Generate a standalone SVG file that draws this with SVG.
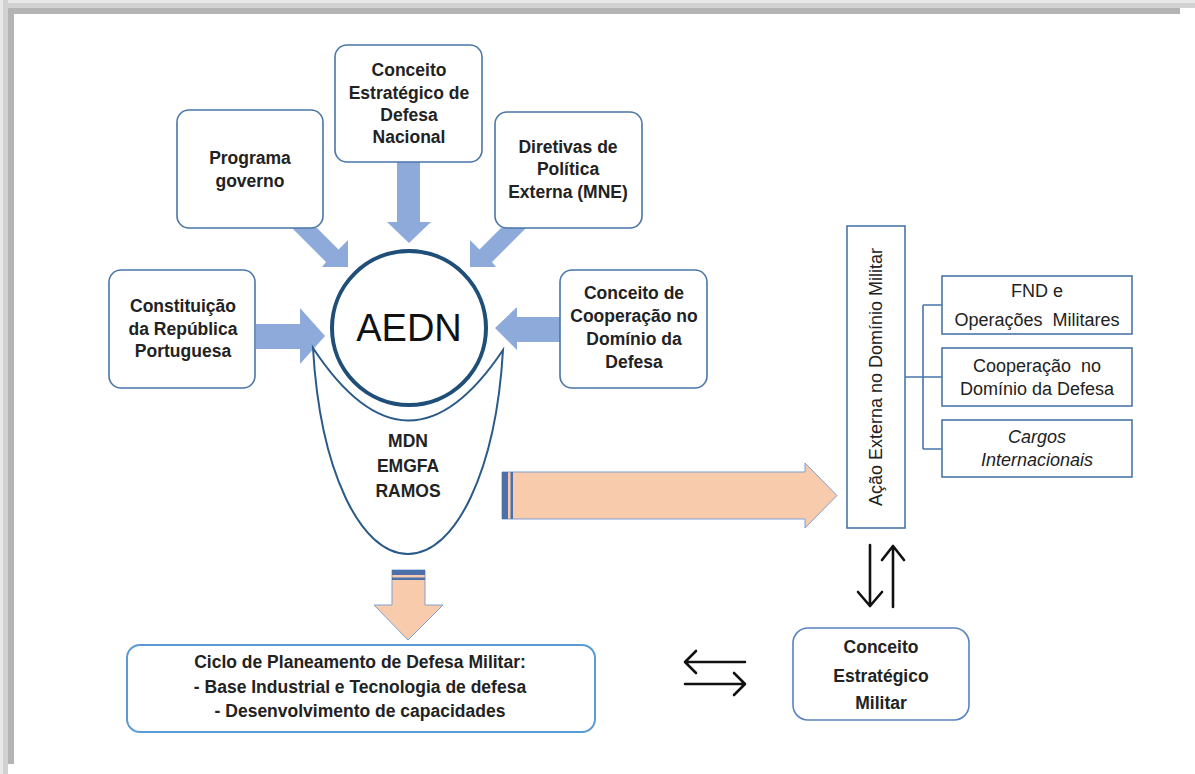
<svg xmlns="http://www.w3.org/2000/svg" width="1195" height="774" viewBox="0 0 1195 774">
<style>
.box{fill:#fff;stroke:#4a76a8;stroke-width:1.6}
.sq{fill:#fff;stroke:#4a76a8;stroke-width:1.6}
.t{font-family:"Liberation Sans",Arial,sans-serif;font-size:17.5px;font-weight:bold;fill:#222;text-anchor:middle}
.r{font-family:"Liberation Sans",Arial,sans-serif;font-size:18px;fill:#222;text-anchor:middle}
.barrow{fill:#8eaadb}
.oarrow{fill:#f8cbad;stroke:#7f9fd0;stroke-width:1}
.stripe{fill:#4d6faa}
.blk{fill:none;stroke:#111;stroke-width:2.6;stroke-linecap:round;stroke-linejoin:round}
.conn{fill:none;stroke:#4a76a8;stroke-width:1.6}
</style>
<rect width="1195" height="774" fill="#fff"/>
<g id="frame">
<rect x="0" y="0" width="1195" height="3" fill="#e8e8e8"/>
<rect x="0" y="3" width="1195" height="5" fill="#d2d2d2"/>
<rect x="8" y="8" width="1172" height="6" fill="#b4b4b4"/>
<rect x="0" y="0" width="3" height="774" fill="#e8e8e8"/>
<rect x="3" y="0" width="5" height="774" fill="#d2d2d2"/>
<rect x="8" y="8" width="6" height="756" fill="#b4b4b4"/>
</g>
<g id="connectors">
<polygon class="barrow" points="256,324 300,324 300,308 325,336 300,364 300,349 256,349"/>
<polygon class="barrow" points="560,317 517,317 517,307 495,328 517,350 517,342 560,342"/>
<polygon class="barrow" points="397,162 420,162 420,222 431,222 409,243 387,222 397,222"/>
<polygon class="barrow" points="292,228 326,262 322,267 348,267 348,240 338.5,249.5 317,228"/>
<polygon class="barrow" points="526,228 492,262 496,267 470,267 470,240 479.5,249.5 501,228"/>
<polygon class="oarrow" points="502,472 805,472 805,463 837,495.5 805,528 805,519 502,519"/>
<rect class="stripe" x="502" y="472" width="6" height="47"/>
<rect class="stripe" x="510.5" y="472" width="2.5" height="47"/>
<polygon class="oarrow" points="392,570 425,570 425,605 443,605 408,640 374,605 392,605"/>
<rect class="stripe" x="392" y="570" width="33" height="5"/>
<rect class="stripe" x="392" y="577.5" width="33" height="2.5"/>
<path class="conn" d="M905,377 H942 M923,305 V449 M923,305 H942 M923,449 H942"/>
<path class="blk" d="M870,545 V605 M858,592 L870,606 L882,592"/>
<path class="blk" d="M893,607 V547 M882,560 L893,546 L904,560"/>
<path class="blk" d="M745,662 H686 M696,651 L685,662 L696,673"/>
<path class="blk" d="M685,684 H744 M734,673 L745,684 L734,695"/>
</g>
<g id="programa">
<rect class="box" x="177" y="110" width="146" height="118" rx="12"/>
<text class="t" x="250" y="164">Programa</text>
<text class="t" x="250" y="187">governo</text>
</g>
<g id="cedn">
<rect class="box" x="335" y="45" width="147" height="117" rx="12"/>
<text class="t" x="409" y="76">Conceito</text>
<text class="t" x="409" y="99">Estratégico de</text>
<text class="t" x="409" y="121">Defesa</text>
<text class="t" x="409" y="143">Nacional</text>
</g>
<g id="diretivas">
<rect class="box" x="495" y="112" width="147" height="116" rx="12"/>
<text class="t" x="568" y="153">Diretivas de</text>
<text class="t" x="568" y="175">Política</text>
<text class="t" x="568" y="198">Externa (MNE)</text>
</g>
<g id="constituicao">
<rect class="box" x="109" y="270" width="146" height="118" rx="12"/>
<text class="t" x="183" y="312">Constituição</text>
<text class="t" x="183" y="335">da República</text>
<text class="t" x="183" y="357">Portuguesa</text>
</g>
<g id="cooperacao">
<rect class="box" x="560" y="270" width="147" height="118" rx="12"/>
<text class="t" x="634" y="299">Conceito de</text>
<text class="t" x="634" y="322">Cooperação no</text>
<text class="t" x="634" y="345">Domínio da</text>
<text class="t" x="634" y="368">Defesa</text>
</g>
<g id="cup">
<path d="M313,348 C320,470 360,554 408,554 C456,554 496,470 503,350 Q408,492 313,348 Z" fill="#fff" stroke="#2a5a88" stroke-width="2"/>
<text class="t" x="408" y="447">MDN</text>
<text class="t" x="408" y="472">EMGFA</text>
<text class="t" x="408" y="497">RAMOS</text>
</g>
<g id="aedn">
<circle cx="409" cy="328" r="77" fill="#fff" stroke="#1f4e79" stroke-width="4"/>
<text x="409" y="341" font-family="Liberation Sans,Arial,sans-serif" font-size="38" fill="#111" text-anchor="middle">AEDN</text>
</g>
<g id="ciclo">
<rect x="127" y="645" width="468" height="87" rx="13" fill="#fff" stroke="#5b9bd5" stroke-width="2"/>
<text class="t" x="360" y="668">Ciclo de Planeamento de Defesa Militar:</text>
<text class="t" x="360" y="693">- Base Industrial e Tecnologia de defesa</text>
<text class="t" x="360" y="717">- Desenvolvimento de capacidades</text>
</g>
<g id="acao">
<rect class="sq" x="847" y="226" width="58" height="302"/>
<text class="r" x="0" y="0" font-size="19" transform="translate(882,377) rotate(-90)">Ação Externa no Domínio Militar</text>
</g>
<g id="fnd">
<rect class="sq" x="942" y="276" width="190" height="58"/>
<text class="r" x="1037" y="297">FND e</text>
<text class="r" x="1037" y="326" xml:space="preserve">Operações  Militares</text>
</g>
<g id="cooperacao-defesa">
<rect class="sq" x="942" y="348" width="190" height="58"/>
<text class="r" x="1037" y="372" xml:space="preserve">Cooperação  no</text>
<text class="r" x="1037" y="395">Domínio da Defesa</text>
</g>
<g id="cargos">
<rect class="sq" x="942" y="420" width="190" height="57"/>
<text class="r" x="1037" y="443" font-style="italic">Cargos</text>
<text class="r" x="1037" y="466" font-style="italic">Internacionais</text>
</g>
<g id="cem">
<rect x="793" y="628" width="176" height="92" rx="15" fill="#fff" stroke="#5a82c0" stroke-width="1.6"/>
<text class="t" x="881" y="653" font-size="20">Conceito</text>
<text class="t" x="881" y="682" font-size="20">Estratégico</text>
<text class="t" x="881" y="709" font-size="20">Militar</text>
</g>
</svg>
